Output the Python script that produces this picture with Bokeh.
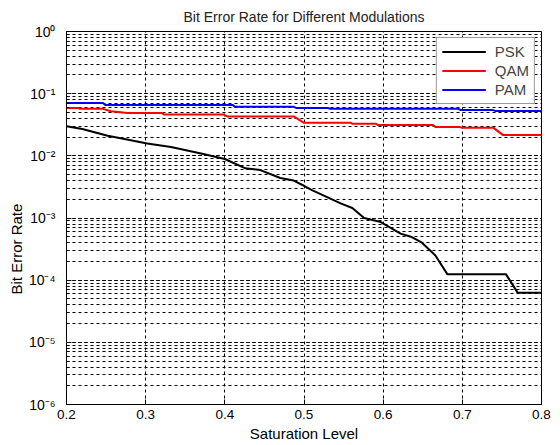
from bokeh.plotting import figure
from bokeh.models import FixedTicker, LogTicker, Legend, LegendItem, Title
from bokeh.embed import file_html
from bokeh.resources import INLINE

# ---- data ----
psk_x = [0.20, 0.22, 0.252, 0.27, 0.302, 0.332, 0.370, 0.400, 0.426, 0.445, 0.470, 0.487,
         0.500, 0.510, 0.547, 0.561, 0.576, 0.597, 0.622, 0.635, 0.649, 0.666, 0.681,
         0.755, 0.770, 0.80]
psk_y = [0.030, 0.027, 0.021, 0.019, 0.0158, 0.0139, 0.0109, 0.0089, 0.0063, 0.0059, 0.0044,
         0.0040, 0.0033, 0.0028, 0.0017, 0.00145, 0.0010, 0.00086, 0.00056, 0.0005, 0.0004,
         0.00025, 0.000125, 0.000125, 0.0000625, 0.0000625]

qam_x = [0.20, 0.215, 0.217, 0.246, 0.256, 0.277, 0.320, 0.323, 0.398, 0.403, 0.487, 0.500,
         0.559, 0.561, 0.591, 0.593, 0.663, 0.666, 0.697, 0.699, 0.739, 0.751, 0.80]
qam_y = [0.059, 0.059, 0.057, 0.057, 0.052, 0.049, 0.049, 0.0464, 0.0464, 0.043, 0.043, 0.034,
         0.034, 0.0329, 0.0329, 0.0313, 0.0313, 0.0291, 0.0291, 0.0284, 0.0284, 0.0217, 0.0217]

pam_x = [0.20, 0.246, 0.249, 0.410, 0.413, 0.487, 0.490, 0.530, 0.533, 0.695, 0.698, 0.739,
         0.742, 0.80]
pam_y = [0.0705, 0.0705, 0.0655, 0.0655, 0.0615, 0.0615, 0.059, 0.059, 0.0571, 0.0571,
         0.0544, 0.0544, 0.0525, 0.0525]

x_ticks = [0.2, 0.3, 0.4, 0.5, 0.6, 0.7, 0.8]
y_ticks = [1e-6, 1e-5, 1e-4, 1e-3, 1e-2, 1e-1, 1e0]
y_tick_labels = ["10\u207b\u2076", "10\u207b\u2075", "10\u207b\u2074", "10\u207b\u00b3",
                 "10\u207b\u00b2", "10\u207b\u00b9", "10\u2070"]

FONT = "Liberation Sans"

p = figure(width=560, height=445, y_axis_type="log", x_range=(0.2, 0.8), y_range=(1e-6, 1),
           output_backend="svg", toolbar_location=None,
           min_border_left=66, min_border_right=19, min_border_top=30, min_border_bottom=41,
           title="Bit Error Rate for Different Modulations")

p.title.align = "center"
p.title.text_font = FONT
p.title.text_font_size = "14px"
p.title.text_font_style = "normal"
p.title.text_color = "#222222"
p.title.standoff = 13

p.outline_line_color = "black"
p.outline_line_width = 1
p.background_fill_color = "white"
p.border_fill_color = "white"

r1 = p.line(psk_x, psk_y, line_color="black", line_width=2)
r2 = p.line(qam_x, qam_y, line_color="red", line_width=2)
r3 = p.line(pam_x, pam_y, line_color="blue", line_width=2)

# axes
p.xaxis.ticker = FixedTicker(ticks=x_ticks)
p.yaxis.ticker = LogTicker(num_minor_ticks=10)
p.yaxis.major_label_overrides = {t: l for t, l in zip(y_ticks, y_tick_labels)}
for ax in (p.xaxis[0], p.yaxis[0]):
    ax.major_tick_in = 5
    ax.major_tick_out = 0
    ax.minor_tick_in = 3
    ax.minor_tick_out = 0
    ax.axis_line_color = "black"
    ax.major_label_text_font = FONT
    ax.major_label_text_color = "black"
p.xaxis.major_label_text_font_size = "13.5px"
p.yaxis.major_label_text_font_size = "14px"
p.xaxis.major_label_standoff = 5
p.yaxis.major_label_standoff = 11

p.xaxis.axis_label = "Saturation Level"
p.xaxis.axis_label_text_font = FONT
p.xaxis.axis_label_text_font_size = "15px"
p.xaxis.axis_label_text_font_style = "normal"
p.xaxis.axis_label_text_color = "black"
p.xaxis.axis_label_standoff = 3

ylab = Title(text="Bit Error Rate", align="left", offset=110, text_font=FONT,
             text_font_size="15px", text_font_style="normal", text_color="black",
             standoff=2)
p.add_layout(ylab, "left")

# grid
p.xgrid.ticker = FixedTicker(ticks=x_ticks)
p.xgrid.grid_line_color = "black"
p.xgrid.grid_line_dash = "3 3"
p.xgrid.grid_line_width = 1
p.ygrid.grid_line_color = "black"
p.ygrid.grid_line_dash = "3 3"
p.ygrid.minor_grid_line_color = "black"
p.ygrid.minor_grid_line_dash = "3 3"

legend = Legend(items=[LegendItem(label="PSK", renderers=[r1]),
                       LegendItem(label="QAM", renderers=[r2]),
                       LegendItem(label="PAM", renderers=[r3])],
                location="top_right")
legend.label_text_font = FONT
legend.label_text_font_size = "15px"
legend.border_line_color = "#333333"
legend.border_line_width = 1
legend.background_fill_color = "white"
legend.background_fill_alpha = 1
legend.glyph_width = 44
legend.glyph_height = 17
legend.label_height = 17
legend.label_standoff = 9
legend.spacing = 2
legend.padding = 5
legend.margin = 6
p.add_layout(legend)

open("out.html", "w").write(file_html(p, INLINE))
